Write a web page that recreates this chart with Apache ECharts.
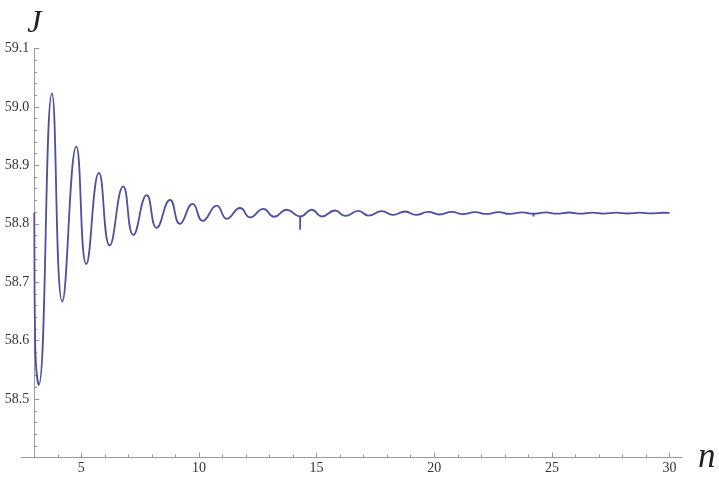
<!DOCTYPE html>
<html>
<head>
<meta charset="utf-8">
<script src="https://cdn.jsdelivr.net/npm/echarts@6/dist/echarts.min.js"></script>
<style>
  html, body { margin: 0; padding: 0; background: #fff; }
  #demo { width: 719px; height: 479px; }
</style>
</head>
<body>
<div id="demo"></div>
<script>
// values
var nValues = [3.00, 3.01, 3.03, 3.07, 3.19, 3.75, 4.19, 4.786, 5.21, 5.75, 6.205, 6.78, 7.21, 7.78,
  8.20, 8.77, 9.19, 9.73, 10.16, 10.755, 11.18, 11.75, 12.17, 12.74, 13.19, 13.73, 14.30, 14.79,
  15.22, 15.785, 16.21, 16.78, 17.20, 17.77, 18.24, 18.76, 19.23, 19.75, 20.22, 20.75, 21.21,
  21.74, 22.21, 22.74, 23.21, 23.74, 24.21, 24.74, 25.21, 25.74, 26.21, 26.74, 27.21, 27.74,
  28.21, 28.74, 29.21, 29.74, 30.00];
var jValues = [58.819, 58.700, 58.620, 58.560, 58.524, 59.023, 58.667, 58.932, 58.731, 58.887,
  58.763, 58.864, 58.781, 58.849, 58.793, 58.841, 58.800, 58.834, 58.805, 58.831, 58.8085,
  58.827, 58.811, 58.8256, 58.812, 58.824, 58.8125, 58.824, 58.8125, 58.8227, 58.8136, 58.822,
  58.814, 58.8216, 58.8153, 58.821, 58.8153, 58.8204, 58.8159, 58.8204, 58.8165, 58.820,
  58.8168, 58.8198, 58.8170, 58.8196, 58.8172, 58.8194, 58.8173, 58.8193, 58.8174, 58.8192,
  58.8175, 58.8191, 58.8176, 58.8190, 58.8177, 58.8189, 58.8185];

// little glitches in the curve
var spikeN = [14.30, 23.08, 24.22];
var spikeTop = [58.8125, 58.8175, 58.8175];
var spikeBottom = [58.790, 58.8160, 58.8125];

var xMajorTicks = [5, 10, 15, 20, 25, 30];
var xMinorTicks = [4, 6, 7, 8, 9, 11, 12, 13, 14, 16, 17, 18, 19, 21, 22, 23, 24, 26, 27, 28, 29];

var myChart = echarts.init(document.getElementById('demo'));

var curve = [];
for (var i = 0; i < nValues.length; i++) {
    curve.push([nValues[i], jValues[i]]);
}
var spikes = [];
for (var k = 0; k < spikeN.length; k++) {
    spikes.push([spikeN[k], spikeTop[k]]);
    spikes.push([spikeN[k], spikeBottom[k]]);
    spikes.push('-');
}

var serif = 'Liberation Serif';
var axisGray = '#9a9a9a';

var option = {
    animation: false,
    grid: { left: 21, right: 37, top: 48.5, bottom: 21.5, containLabel: false },
    xAxis: [{
        type: 'value',
        min: 2.435,
        max: 30.53,
        name: 'n',
        nameLocation: 'end',
        nameGap: 16,
        nameTextStyle: { fontFamily: serif, fontStyle: 'italic', fontSize: 35, color: '#222' },
        axisLine: { lineStyle: { color: axisGray, width: 1 } },
        axisTick: { inside: true, length: 5, customValues: xMajorTicks, lineStyle: { color: axisGray } },
        axisLabel: { customValues: xMajorTicks, margin: 4, fontFamily: serif, fontSize: 14, color: '#333' },
        splitLine: { show: false }
    }, {
        type: 'value',
        min: 2.435,
        max: 30.53,
        position: 'bottom',
        axisLine: { show: false },
        axisTick: { inside: true, length: 3, customValues: xMinorTicks, lineStyle: { color: axisGray } },
        axisLabel: { show: false },
        splitLine: { show: false }
    }],
    yAxis: {
        type: 'value',
        min: 58.4,
        max: 59.1,
        interval: 0.1,
        offset: -13.3,
        name: 'J',
        nameLocation: 'end',
        nameGap: 9,
        nameTextStyle: { fontFamily: serif, fontStyle: 'italic', fontSize: 32, color: '#222' },
        axisLine: { show: true, lineStyle: { color: axisGray, width: 1 } },
        axisTick: { show: true, inside: true, length: 5, lineStyle: { color: axisGray } },
        minorTick: { show: true, splitNumber: 5, length: 3, lineStyle: { color: axisGray } },
        axisLabel: {
            showMinLabel: false,
            margin: 5,
            fontFamily: serif,
            fontSize: 14,
            color: '#333',
            formatter: function (v) { return v.toFixed(1); }
        },
        splitLine: { show: false }
    },
    series: [{
        type: 'line',
        data: curve,
        smooth: 0.5,
        showSymbol: false,
        lineStyle: { color: '#4d4f9f', width: 1.8 }
    }, {
        type: 'line',
        data: spikes,
        showSymbol: false,
        lineStyle: { color: '#4d4f9f', width: 1.8 }
    }]
};
myChart.setOption(option);
</script>
</body>
</html>
